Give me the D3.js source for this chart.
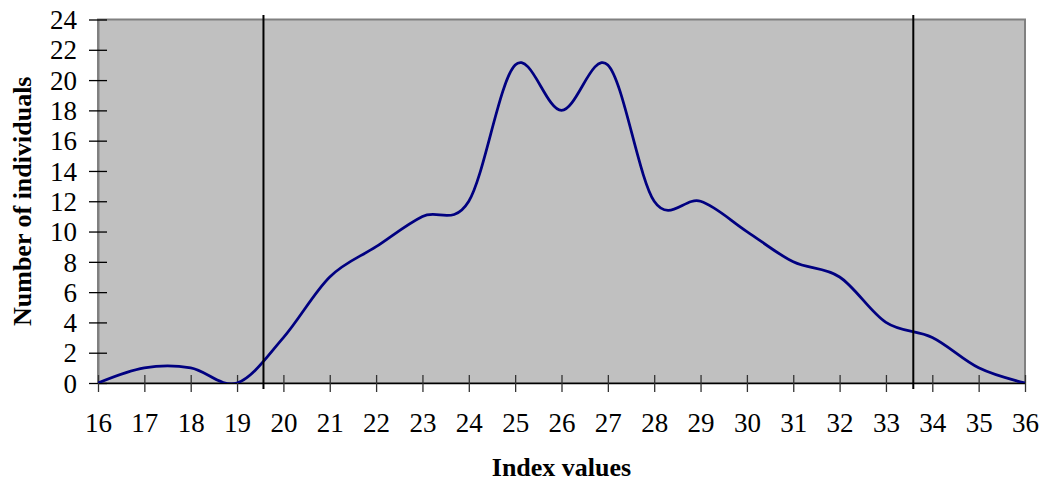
<!DOCTYPE html>
<html>
<head>
<meta charset="utf-8">
<script src="https://cdn.jsdelivr.net/npm/d3@7"></script>
<style>
  html, body { margin: 0; padding: 0; background: #ffffff; }
  svg { display: block; }
  text { font-family: "Liberation Serif", "Times New Roman", serif; fill: #000; }
  .tick text { font-size: 27px !important; font-family: "Liberation Serif", "Times New Roman", serif !important; }
</style>
</head>
<body>
<script>
// ---- Data ----
const indexValues = [16,17,18,19,20,21,22,23,24,25,26,27,28,29,30,31,32,33,34,35,36];
const individuals = [0,1,1,0,3,7,9,11,12,21,18,21,12,12,10,8,7,4,3,1,0];
const referenceLines = [19.57, 33.59];
const xTickValues = [16,17,18,19,20,21,22,23,24,25,26,27,28,29,30,31,32,33,34,35,36];
const yTickValues = [0,2,4,6,8,10,12,14,16,18,20,22,24];
const xTitle = "Index values";
const yTitle = "Number of individuals";

// ---- Layout ----
const W = 1044, H = 481;
const plot = { left: 98, right: 1025, top: 19.5, bottom: 383 };

const svg = d3.select("body").append("svg").attr("width", W).attr("height", H);

const x = d3.scaleLinear().domain([16, 36]).range([plot.left, plot.right]);
const y = d3.scaleLinear().domain([0, 24]).range([plot.bottom, plot.top]);

// plot area background
svg.append("rect")
  .attr("x", plot.left).attr("y", plot.top)
  .attr("width", plot.right - plot.left).attr("height", plot.bottom - plot.top)
  .attr("fill", "#c0c0c0").attr("stroke", "#808080").attr("stroke-width", 2);

svg.append("defs").append("clipPath").attr("id", "clip")
  .append("rect")
  .attr("x", plot.left).attr("y", plot.top - 2)
  .attr("width", plot.right - plot.left).attr("height", plot.bottom - plot.top + 2);

// Y axis (ticks crossing the axis line)
const yAxis = svg.append("g").attr("transform", `translate(${plot.left},0)`)
  .call(d3.axisLeft(y).tickValues(yTickValues).tickSize(9).tickSizeOuter(0).tickPadding(12));
yAxis.attr("font-size", 27).attr("font-family", "Liberation Serif");
yAxis.select(".domain").attr("stroke", "#808080").attr("stroke-width", 2);
yAxis.selectAll(".tick line").attr("x2", 9).attr("x1", -9).attr("stroke", "#000").attr("stroke-width", 1.3);
yAxis.selectAll(".tick text")
  .attr("x", -21)
  .attr("fill", "#000").attr("dy", "0.34em");

// X axis
const xAxis = svg.append("g").attr("transform", `translate(0,${plot.bottom})`)
  .call(d3.axisBottom(x).tickValues(xTickValues).tickSize(9).tickSizeOuter(0).tickFormat(d3.format("d")));
xAxis.attr("font-size", 27).attr("font-family", "Liberation Serif");
xAxis.select(".domain").attr("stroke", "#000").attr("stroke-width", 1.5);
xAxis.selectAll(".tick line").attr("y1", -8).attr("y2", 9).attr("stroke", "#333").attr("stroke-width", 1.3);
xAxis.selectAll(".tick text")
  .attr("y", 49).attr("dy", 0)
  .attr("fill", "#000");

// data line (smoothed, uniform Catmull-Rom like Excel's smoothing)
const data = indexValues.map((v, i) => ({ x: v, y: individuals[i] }));
const line = d3.line().x(d => x(d.x)).y(d => y(d.y)).curve(d3.curveCardinal.tension(0));
svg.append("path")
  .datum(data)
  .attr("clip-path", "url(#clip)")
  .attr("fill", "none")
  .attr("stroke", "#000080")
  .attr("stroke-width", 2.75)
  .attr("stroke-linejoin", "round")
  .attr("d", line);

// reference vertical lines
svg.selectAll("line.ref").data(referenceLines).enter().append("line")
  .attr("class", "ref")
  .attr("x1", d => x(d)).attr("x2", d => x(d))
  .attr("y1", 15).attr("y2", 389)
  .attr("stroke", "#000").attr("stroke-width", 2);

// axis titles
svg.append("text")
  .attr("x", (plot.left + plot.right) / 2).attr("y", 476)
  .attr("text-anchor", "middle")
  .style("font-size", "26px").style("font-weight", "bold")
  .text(xTitle);

svg.append("text")
  .attr("transform", `translate(31,${(plot.top + plot.bottom) / 2}) rotate(-90)`)
  .attr("text-anchor", "middle")
  .style("font-size", "26px").style("font-weight", "bold")
  .text(yTitle);
</script>
</body>
</html>
